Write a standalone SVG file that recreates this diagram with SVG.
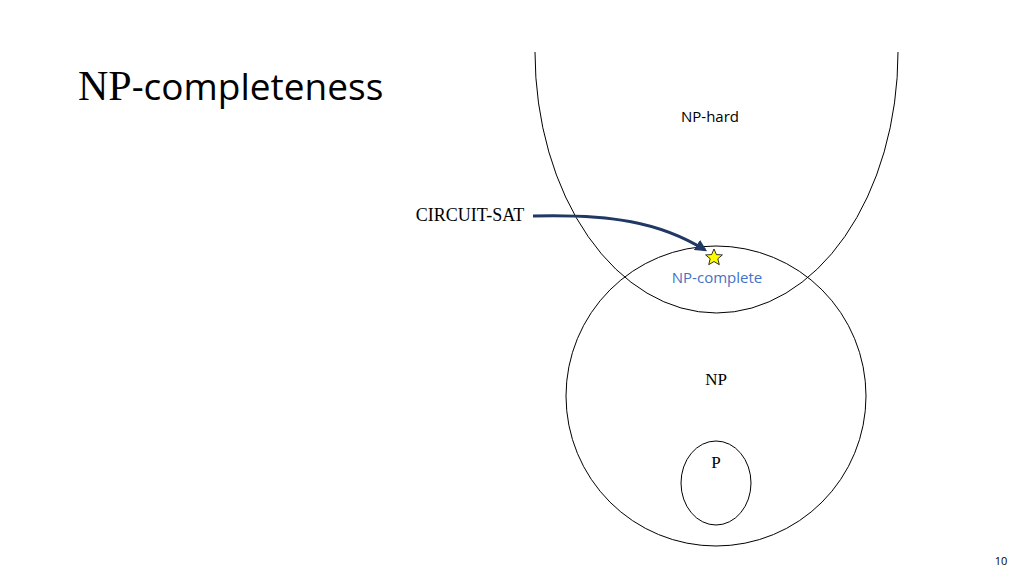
<svg xmlns="http://www.w3.org/2000/svg" width="1024" height="576" viewBox="0 0 1024 576">
<style>
.s{fill:none;stroke:#000;stroke-width:1}
.t{font-family:"Liberation Serif",serif;font-size:17px;fill:#000;text-anchor:middle}
.o{font-family:"Open Sans","Liberation Sans",sans-serif}
</style>
<defs><marker id="a" viewBox="0 0 10 10" refX="8" refY="5" markerWidth="4" markerHeight="4" orient="auto"><path d="M0,0L10,5L0,10z" fill="#1f3864"/></marker></defs>
<rect width="1024" height="576" fill="#fff"/>
<text x="78" y="100" style="font-family:'Liberation Serif',serif;font-size:42px" fill="#000">NP<tspan style="font-family:'Open Sans','Liberation Sans',sans-serif;font-size:37px">-completeness</tspan></text>
<g id="nphard"><path class="s" d="M535,52 A181.5,261 0 0 0 898,52"/><text class="o" x="710" y="122" font-size="15" text-anchor="middle">NP-hard</text></g>
<g id="np"><circle class="s" cx="716" cy="396" r="150"/><text class="t" x="716" y="385">NP</text></g>
<g id="p"><ellipse class="s" cx="716" cy="483" rx="35" ry="42"/><text class="t" x="716" y="468">P</text></g>
<g id="npc"><text class="o" x="717" y="283" text-anchor="middle" font-size="15" fill="#4472c4">NP-complete</text>
<polygon points="714,249 716.4,254.6 722.4,254.9 717.8,258.8 719.3,264.7 714,261.5 708.7,264.7 710.2,258.8 705.6,254.9 711.6,254.6" fill="#ffff00" stroke="#000" stroke-width="0.8"/></g>
<g id="cs"><text class="t" x="470" y="221" style="font-size:18px">CIRCUIT-SAT</text></g>
<g id="connectors"><path d="M533,216 C610,214 660,222 705,250" fill="none" stroke="#1f3864" stroke-width="3" marker-end="url(#a)"/></g>
<text class="o" x="1001" y="565" font-size="11" fill="#000" text-anchor="middle">10</text>
</svg>
